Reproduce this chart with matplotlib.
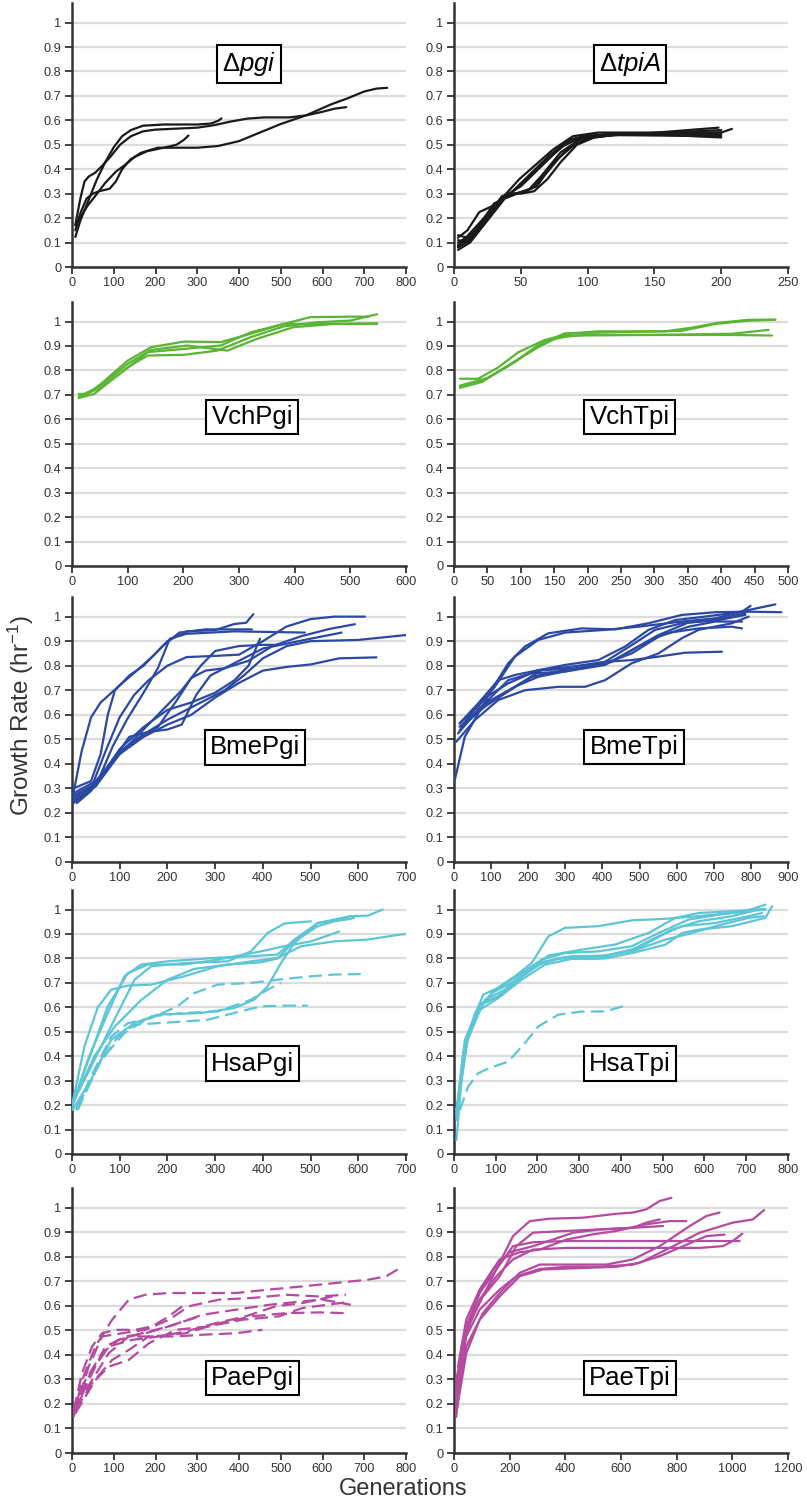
"""Growth rate trajectories for the evolved replacement strains (10 panels)"""

import matplotlib
import matplotlib.pyplot as plt

matplotlib.use("Agg")

plt.rcParams["font.family"] = ["Liberation Sans", "DejaVu Sans"]
plt.rcParams["mathtext.fontset"] = "custom"
plt.rcParams["mathtext.rm"] = "Liberation Sans"
plt.rcParams["mathtext.it"] = "Liberation Sans:italic"

# ---- data: each curve is a list of (generation, growth rate) ----
dpgi_solid = [
    [(8, 0.15), (20, 0.22), (35, 0.28), (50, 0.30), (65, 0.31), (90, 0.32), (105, 0.35), (120, 0.40),
     (140, 0.44), (165, 0.467), (205, 0.488), (300, 0.488), (350, 0.495), (400, 0.515), (450, 0.55),
     (500, 0.585), (560, 0.62), (620, 0.665), (660, 0.69), (700, 0.718), (730, 0.73), (755, 0.733)],
    [(8, 0.173), (20, 0.28), (30, 0.35), (40, 0.37), (55, 0.385), (70, 0.41), (93, 0.453), (115, 0.50),
     (141, 0.535), (170, 0.555), (200, 0.562), (300, 0.57), (340, 0.58), (380, 0.595), (420, 0.607),
     (460, 0.612), (520, 0.612), (560, 0.62), (600, 0.635), (630, 0.648), (657, 0.654)],
    [(8, 0.123), (20, 0.19), (37, 0.262), (60, 0.36), (80, 0.43), (100, 0.49), (120, 0.535), (141, 0.56),
     (170, 0.578), (220, 0.583), (301, 0.583), (333, 0.587), (350, 0.598), (358, 0.608)],
    [(8, 0.17), (37, 0.25), (60, 0.30), (80, 0.345), (105, 0.39), (125, 0.415), (150, 0.45), (180, 0.474),
     (220, 0.488), (250, 0.50), (268, 0.52), (279, 0.538)],
]

dtpia_solid = [
    [(3, 0.12), (10, 0.15), (19, 0.225), (29, 0.25), (40, 0.29), (55, 0.36), (70, 0.44), (85, 0.51),
     (100, 0.535), (120, 0.545), (150, 0.545), (200, 0.55), (208, 0.565)],
    [(3, 0.08), (12, 0.11), (25, 0.20), (40, 0.30), (50, 0.30), (60, 0.31), (70, 0.36), (80, 0.43),
     (92, 0.50), (105, 0.53), (120, 0.54), (160, 0.54), (200, 0.53)],
    [(3, 0.085), (24, 0.21), (49, 0.36), (74, 0.48), (89, 0.535), (108, 0.55), (150, 0.55), (200, 0.55)],
    [(3, 0.10), (15, 0.14), (30, 0.26), (45, 0.30), (55, 0.31), (65, 0.37), (80, 0.47), (95, 0.525),
     (115, 0.545), (160, 0.54), (200, 0.545)],
    [(3, 0.13), (10, 0.12), (20, 0.17), (35, 0.28), (50, 0.33), (65, 0.41), (80, 0.49), (95, 0.53),
     (120, 0.54), (200, 0.56)],
    [(3, 0.07), (12, 0.10), (25, 0.19), (38, 0.28), (52, 0.31), (62, 0.33), (75, 0.43), (90, 0.50),
     (105, 0.535), (140, 0.545), (198, 0.57)],
    [(3, 0.09), (15, 0.13), (28, 0.24), (42, 0.30), (57, 0.38), (72, 0.46), (86, 0.52), (100, 0.54),
     (150, 0.545), (200, 0.54)],
    [(3, 0.11), (10, 0.10), (22, 0.19), (36, 0.29), (46, 0.30), (58, 0.32), (70, 0.39), (84, 0.48),
     (98, 0.525), (120, 0.54), (200, 0.535)],
]

vchpgi_solid = [
    [(12, 0.704), (28, 0.704), (52, 0.745), (100, 0.84), (142, 0.895), (201, 0.918), (267, 0.916),
     (321, 0.95), (380, 0.99), (428, 1.018), (500, 1.02), (533, 1.02)],
    [(12, 0.687), (40, 0.704), (100, 0.813), (136, 0.861), (201, 0.864), (261, 0.881), (321, 0.936),
     (380, 0.98), (440, 0.997), (500, 1.004), (548, 1.03)],
    [(12, 0.69), (52, 0.73), (94, 0.80), (136, 0.875), (201, 0.888), (267, 0.902), (321, 0.956),
     (380, 0.99), (440, 0.99), (548, 0.993)],
    [(12, 0.693), (52, 0.738), (100, 0.827), (142, 0.884), (207, 0.902), (279, 0.881), (333, 0.93),
     (398, 0.977), (470, 0.99), (548, 0.99)],
]

vchtpi_solid = [
    [(9, 0.766), (36, 0.766), (66, 0.812), (96, 0.874), (136, 0.925), (176, 0.952), (216, 0.96),
     (316, 0.96), (356, 0.975), (396, 0.995), (441, 1.007), (481, 1.008)],
    [(9, 0.729), (41, 0.752), (81, 0.82), (126, 0.895), (156, 0.936), (196, 0.945), (316, 0.945),
     (416, 0.945), (476, 0.943)],
    [(9, 0.734), (46, 0.762), (86, 0.827), (126, 0.903), (166, 0.952), (241, 0.956), (341, 0.962),
     (391, 0.99), (441, 1.004), (481, 1.007)],
    [(9, 0.738), (51, 0.77), (91, 0.834), (136, 0.92), (176, 0.943), (316, 0.946), (416, 0.95),
     (471, 0.966)],
]

bmepgi_solid = [
    [(3, 0.28), (20, 0.45), (40, 0.59), (60, 0.65), (100, 0.72), (130, 0.77), (170, 0.84), (200, 0.90),
     (240, 0.94), (300, 0.945), (340, 0.97), (365, 0.975), (380, 1.01)],
    [(3, 0.30), (40, 0.33), (60, 0.44), (75, 0.60), (90, 0.70), (120, 0.76), (150, 0.80), (190, 0.88),
     (225, 0.935), (280, 0.948), (377, 0.948)],
    [(3, 0.25), (50, 0.31), (85, 0.47), (115, 0.58), (150, 0.69), (180, 0.79), (205, 0.91), (240, 0.93),
     (340, 0.94), (488, 0.935)],
    [(3, 0.27), (40, 0.30), (70, 0.45), (100, 0.59), (130, 0.68), (160, 0.74), (200, 0.80), (240, 0.835),
     (300, 0.84), (350, 0.845), (400, 0.90), (450, 0.96), (500, 0.99), (550, 1.0), (614, 1.0)],
    [(3, 0.26), (50, 0.32), (80, 0.40), (120, 0.51), (160, 0.53), (200, 0.54), (230, 0.56), (260, 0.68),
     (290, 0.76), (320, 0.79), (370, 0.82), (420, 0.88), (480, 0.92), (540, 0.95), (593, 0.969)],
    [(3, 0.28), (50, 0.33), (100, 0.45), (150, 0.52), (180, 0.55), (220, 0.66), (250, 0.75), (280, 0.78),
     (320, 0.79), (360, 0.83), (400, 0.87), (450, 0.89), (500, 0.91), (565, 0.935)],
    [(3, 0.25), (50, 0.31), (100, 0.45), (150, 0.52), (200, 0.58), (240, 0.62), (280, 0.66), (320, 0.70),
     (360, 0.76), (400, 0.83), (450, 0.88), (500, 0.90), (600, 0.905), (700, 0.925)],
    [(3, 0.24), (50, 0.31), (100, 0.44), (150, 0.51), (200, 0.56), (250, 0.60), (300, 0.67), (350, 0.73),
     (400, 0.78), (450, 0.795), (500, 0.805), (560, 0.83), (638, 0.834)],
    [(3, 0.27), (50, 0.32), (100, 0.46), (150, 0.55), (200, 0.62), (250, 0.65), (300, 0.69), (340, 0.74),
     (370, 0.80), (394, 0.91)],
    [(10, 0.24), (40, 0.29), (80, 0.40), (130, 0.50), (180, 0.60), (230, 0.70), (270, 0.80), (300, 0.86),
     (350, 0.88), (400, 0.885), (430, 0.885)],
]

bmetpi_solid = [
    [(2, 0.333), (29, 0.51), (65, 0.605), (101, 0.70), (146, 0.81), (191, 0.878), (254, 0.932),
     (344, 0.952), (434, 0.948), (524, 0.973), (614, 1.007), (704, 1.018), (794, 1.02), (882, 1.018)],
    [(15, 0.565), (65, 0.633), (110, 0.714), (164, 0.837), (227, 0.905), (299, 0.935), (407, 0.946),
     (497, 0.959), (614, 0.98), (704, 0.993), (776, 1.02), (799, 1.044)],
    [(15, 0.565), (65, 0.646), (119, 0.741), (164, 0.762), (209, 0.776), (299, 0.803), (389, 0.823),
     (461, 0.878), (524, 0.946), (596, 0.986), (659, 0.997), (749, 1.014), (794, 1.027), (866, 1.05)],
    [(20, 0.551), (74, 0.66), (146, 0.728), (227, 0.782), (317, 0.796), (407, 0.816), (479, 0.884),
     (542, 0.946), (614, 0.973), (704, 0.986), (785, 1.014)],
    [(11, 0.524), (65, 0.62), (137, 0.687), (209, 0.755), (299, 0.782), (407, 0.81), (479, 0.85),
     (551, 0.918), (632, 0.959), (704, 0.98), (776, 0.98)],
    [(15, 0.537), (83, 0.646), (164, 0.714), (236, 0.782), (344, 0.789), (425, 0.816), (497, 0.878),
     (569, 0.932), (659, 0.952), (749, 0.959), (776, 0.952)],
    [(20, 0.551), (83, 0.633), (164, 0.714), (227, 0.755), (317, 0.782), (407, 0.816), (479, 0.823),
     (551, 0.837), (623, 0.853), (722, 0.857)],
    [(6, 0.49), (56, 0.578), (119, 0.66), (191, 0.70), (281, 0.714), (353, 0.714), (407, 0.741),
     (479, 0.81), (551, 0.85), (614, 0.912), (659, 0.946), (749, 0.973), (794, 1.0)],
    [(15, 0.551), (74, 0.633), (146, 0.741), (209, 0.769), (299, 0.776), (407, 0.803), (479, 0.864),
     (551, 0.925), (632, 0.976), (713, 0.986), (785, 1.007)],
]

hsapgi_solid = [
    [(1, 0.208), (26, 0.44), (54, 0.60), (82, 0.672), (117, 0.689), (166, 0.693), (235, 0.727),
     (305, 0.768), (375, 0.788), (431, 0.802), (480, 0.85), (550, 0.87), (619, 0.877), (689, 0.898),
     (700, 0.90)],
    [(1, 0.194), (33, 0.385), (75, 0.577), (110, 0.727), (145, 0.775), (200, 0.788), (298, 0.802),
     (375, 0.809), (431, 0.816), (466, 0.877), (515, 0.945), (584, 0.973), (620, 0.975), (651, 1.0)],
    [(1, 0.208), (33, 0.33), (89, 0.55), (131, 0.713), (166, 0.768), (235, 0.781), (326, 0.788),
     (375, 0.829), (410, 0.904), (445, 0.943), (501, 0.952)],
    [(5, 0.221), (47, 0.40), (89, 0.52), (145, 0.63), (200, 0.713), (256, 0.757), (326, 0.775),
     (396, 0.784), (431, 0.80), (466, 0.87), (515, 0.932), (550, 0.952), (591, 0.966)],
    [(1, 0.18), (40, 0.303), (82, 0.467), (131, 0.536), (180, 0.57), (270, 0.577), (340, 0.597),
     (382, 0.631), (410, 0.686), (438, 0.781), (466, 0.863), (515, 0.945), (584, 0.962)],
    [(1, 0.208), (40, 0.413), (75, 0.604), (117, 0.74), (159, 0.775), (235, 0.775), (305, 0.795),
     (396, 0.829), (445, 0.85), (501, 0.87), (560, 0.91)],
]

hsapgi_dashed = [
    [(8, 0.18), (40, 0.317), (82, 0.48), (117, 0.535), (166, 0.556), (221, 0.604), (256, 0.658),
     (305, 0.693), (375, 0.70), (431, 0.713), (501, 0.727), (550, 0.734), (605, 0.736)],
    [(12, 0.18), (54, 0.358), (96, 0.48), (131, 0.529), (186, 0.536), (235, 0.542), (284, 0.549),
     (340, 0.577), (396, 0.604), (445, 0.607), (494, 0.607)],
    [(12, 0.194), (61, 0.385), (110, 0.495), (166, 0.563), (235, 0.577), (305, 0.583), (375, 0.631),
     (410, 0.672), (438, 0.70)],
]

hsatpi_solid = [
    [(6, 0.057), (18, 0.303), (34, 0.495), (58, 0.59), (98, 0.672), (146, 0.727), (186, 0.781),
     (226, 0.89), (266, 0.925), (346, 0.932), (426, 0.956), (506, 0.962), (586, 0.973), (666, 0.986),
     (746, 1.0)],
    [(6, 0.167), (22, 0.413), (50, 0.576), (90, 0.658), (138, 0.70), (178, 0.75), (226, 0.812),
     (306, 0.836), (386, 0.857), (466, 0.904), (530, 0.966), (586, 0.986), (666, 0.993), (746, 1.003)],
    [(6, 0.139), (26, 0.44), (58, 0.604), (106, 0.645), (154, 0.713), (202, 0.775), (250, 0.80),
     (346, 0.80), (426, 0.836), (490, 0.891), (546, 0.932), (626, 0.945), (706, 0.973), (738, 0.986)],
    [(6, 0.18), (26, 0.467), (66, 0.617), (114, 0.652), (162, 0.727), (210, 0.781), (266, 0.806),
     (346, 0.809), (426, 0.829), (506, 0.877), (570, 0.904), (626, 0.932), (706, 0.966), (742, 0.973)],
    [(6, 0.153), (30, 0.454), (62, 0.59), (106, 0.638), (162, 0.713), (218, 0.775), (282, 0.798),
     (362, 0.80), (426, 0.822), (506, 0.856), (546, 0.904), (586, 0.918), (666, 0.932), (746, 0.966),
     (762, 1.014)],
    [(6, 0.18), (34, 0.481), (74, 0.631), (122, 0.672), (170, 0.74), (218, 0.788), (282, 0.809),
     (362, 0.811), (442, 0.843), (522, 0.918), (586, 0.952), (666, 0.973), (714, 0.993)],
    [(6, 0.167), (30, 0.481), (70, 0.652), (114, 0.686), (162, 0.74), (210, 0.795), (266, 0.822),
     (346, 0.829), (426, 0.85), (490, 0.904), (562, 0.959), (634, 0.979), (698, 0.993), (746, 1.02)],
]

hsatpi_dashed = [
    [(14, 0.18), (34, 0.276), (58, 0.33), (82, 0.35), (130, 0.378), (170, 0.454), (202, 0.522),
     (250, 0.57), (306, 0.583), (362, 0.583), (410, 0.607)],
]

paepgi_dashed = [
    [(4, 0.147), (24, 0.297), (56, 0.434), (96, 0.543), (136, 0.625), (176, 0.645), (232, 0.652),
     (312, 0.652), (392, 0.652), (472, 0.666), (552, 0.679), (632, 0.693), (712, 0.707), (752, 0.72),
     (780, 0.748)],
    [(4, 0.161), (40, 0.352), (72, 0.475), (120, 0.488), (176, 0.502), (232, 0.543), (280, 0.598),
     (352, 0.625), (432, 0.632), (512, 0.645), (592, 0.638), (656, 0.645)],
    [(4, 0.175), (32, 0.297), (72, 0.407), (112, 0.461), (168, 0.488), (232, 0.516), (312, 0.563),
     (392, 0.584), (472, 0.604), (552, 0.618), (600, 0.625), (668, 0.604)],
    [(8, 0.188), (48, 0.297), (88, 0.407), (136, 0.475), (192, 0.475), (272, 0.488), (352, 0.529),
     (432, 0.557), (512, 0.57), (592, 0.573), (656, 0.57)],
    [(4, 0.161), (44, 0.325), (88, 0.434), (144, 0.461), (208, 0.475), (272, 0.495), (344, 0.529),
     (416, 0.557), (488, 0.598), (552, 0.611), (624, 0.638)],
    [(8, 0.175), (48, 0.284), (96, 0.379), (136, 0.42), (184, 0.475), (248, 0.475), (312, 0.482),
     (392, 0.488), (456, 0.502)],
    [(4, 0.161), (40, 0.297), (80, 0.434), (128, 0.475), (176, 0.488), (232, 0.516), (280, 0.543),
     (312, 0.559)],
    [(4, 0.175), (24, 0.325), (48, 0.434), (72, 0.488), (104, 0.502), (152, 0.502), (192, 0.516),
     (232, 0.557), (264, 0.598)],
    [(8, 0.161), (56, 0.297), (88, 0.352), (136, 0.379), (184, 0.447), (248, 0.502), (328, 0.516),
     (408, 0.543), (496, 0.557), (552, 0.591), (656, 0.614)],
]

paetpi_solid = [
    [(8, 0.147), (32, 0.434), (68, 0.57), (116, 0.666), (164, 0.775), (212, 0.884), (272, 0.945),
     (344, 0.955), (464, 0.959), (583, 0.975), (643, 0.98), (691, 0.993), (739, 1.027), (781, 1.04)],
    [(8, 0.229), (44, 0.502), (104, 0.638), (164, 0.72), (224, 0.843), (284, 0.898), (404, 0.905),
     (523, 0.911), (643, 0.918), (691, 0.939), (739, 0.952)],
    [(8, 0.297), (44, 0.516), (92, 0.652), (152, 0.748), (212, 0.843), (284, 0.859), (404, 0.864),
     (643, 0.864), (883, 0.864), (1026, 0.864)],
    [(8, 0.188), (44, 0.488), (92, 0.625), (152, 0.72), (212, 0.789), (284, 0.829), (404, 0.836),
     (643, 0.836), (883, 0.836), (966, 0.843), (1002, 0.864), (1036, 0.894)],
    [(8, 0.243), (44, 0.475), (92, 0.584), (164, 0.666), (224, 0.72), (308, 0.75), (404, 0.759),
     (523, 0.759), (643, 0.768), (739, 0.802), (823, 0.843), (907, 0.884), (972, 0.89)],
    [(8, 0.161), (44, 0.407), (92, 0.543), (164, 0.638), (236, 0.72), (320, 0.748), (464, 0.754),
     (583, 0.759), (667, 0.775), (763, 0.829), (883, 0.898), (1002, 0.939), (1074, 0.952), (1114, 0.99)],
    [(8, 0.175), (44, 0.434), (104, 0.57), (164, 0.652), (236, 0.734), (308, 0.768), (428, 0.768),
     (547, 0.768), (643, 0.789), (739, 0.843), (847, 0.925), (907, 0.966), (954, 0.98)],
    [(8, 0.27), (44, 0.502), (92, 0.652), (140, 0.748), (200, 0.818), (284, 0.843), (356, 0.87),
     (428, 0.898), (523, 0.911), (643, 0.918), (751, 0.925)],
    [(14, 0.352), (44, 0.543), (92, 0.666), (164, 0.789), (236, 0.818), (308, 0.829), (404, 0.87),
     (499, 0.891), (583, 0.905), (691, 0.932), (775, 0.945), (835, 0.945)],
]

titles = [r"$\Delta\mathit{pgi}$", r"$\Delta\mathit{tpiA}$", "VchPgi", "VchTpi", "BmePgi", "BmeTpi",
          "HsaPgi", "HsaTpi", "PaePgi", "PaeTpi"]
xmax = [800, 250, 600, 500, 700, 900, 700, 800, 800, 1200]
xstep = [100, 50, 100, 50, 100, 100, 100, 100, 100, 200]
solid_sets = [dpgi_solid, dtpia_solid, vchpgi_solid, vchtpi_solid, bmepgi_solid, bmetpi_solid,
              hsapgi_solid, hsatpi_solid, [], paetpi_solid]
dashed_sets = [[], [], [], [], [], [], hsapgi_dashed, hsatpi_dashed, paepgi_dashed, []]

# ---- styling ----
row_colors = ["#1a1a1a", "#5ab534", "#2b48a3", "#5cc5d6", "#b44ba0"]
label_pos = [(0.53, 0.83), (0.527, 0.83), (0.54, 0.61), (0.526, 0.61), (0.548, 0.467),
             (0.539, 0.47), (0.54, 0.37), (0.526, 0.37), (0.54, 0.307), (0.526, 0.307)]
rows_px = [(3, 267), (302, 566), (597, 862), (890, 1154), (1188, 1453)]
cols_px = [(72, 406), (454, 788)]
W, H = 807, 1500
axis_col = "#333333"

fig = plt.figure(figsize=(W / 100, H / 100), dpi=100)

for i in range(10):
    r, c = divmod(i, 2)
    top, bot = rows_px[r]
    left, right = cols_px[c]
    ax = fig.add_axes([left / W, 1 - bot / H, (right - left) / W, (bot - top) / H])
    color = row_colors[r]

    for curve in solid_sets[i]:
        xs, ys = zip(*curve)
        ax.plot(xs, ys, color=color, lw=1.6, solid_capstyle="round", solid_joinstyle="round", zorder=3)
    for curve in dashed_sets[i]:
        xs, ys = zip(*curve)
        ax.plot(xs, ys, color=color, lw=1.6, dashes=(6, 2.8), zorder=3)

    ax.set_xlim(0, xmax[i])
    ax.set_ylim(0, 1.08)
    ax.set_xticks(range(0, xmax[i] + 1, xstep[i]))
    ax.set_yticks([k / 10 for k in range(11)])
    ax.set_yticklabels(["0"] + [f"0.{k}" for k in range(1, 10)] + ["1"])
    ax.yaxis.grid(True, color="#dcdcdc", lw=1.6, zorder=0)
    ax.set_axisbelow(True)
    for side in ("top", "right"):
        ax.spines[side].set_visible(False)
    for side in ("left", "bottom"):
        ax.spines[side].set_linewidth(1.8)
        ax.spines[side].set_color(axis_col)
    ax.tick_params(direction="out", length=5, width=1.3, color=axis_col, labelcolor=axis_col,
                   labelsize=9.2, pad=2.5)

    lx, ly = label_pos[i]
    ax.text(lx, ly, titles[i], transform=ax.get_yaxis_transform(), ha="center", va="center",
            fontsize=18.5, color="black", zorder=5,
            bbox=dict(boxstyle="square,pad=0.2", fc="white", ec="black", lw=1.5))

fig.text(0.026, 0.523, "Growth Rate (hr$^{-1}$)", rotation=90, ha="center", va="center",
         fontsize=17.5, color=axis_col)
fig.text(0.5, 0.0035, "Generations", ha="center", va="baseline", fontsize=17, color=axis_col)

fig.savefig("out.png", dpi=100)
